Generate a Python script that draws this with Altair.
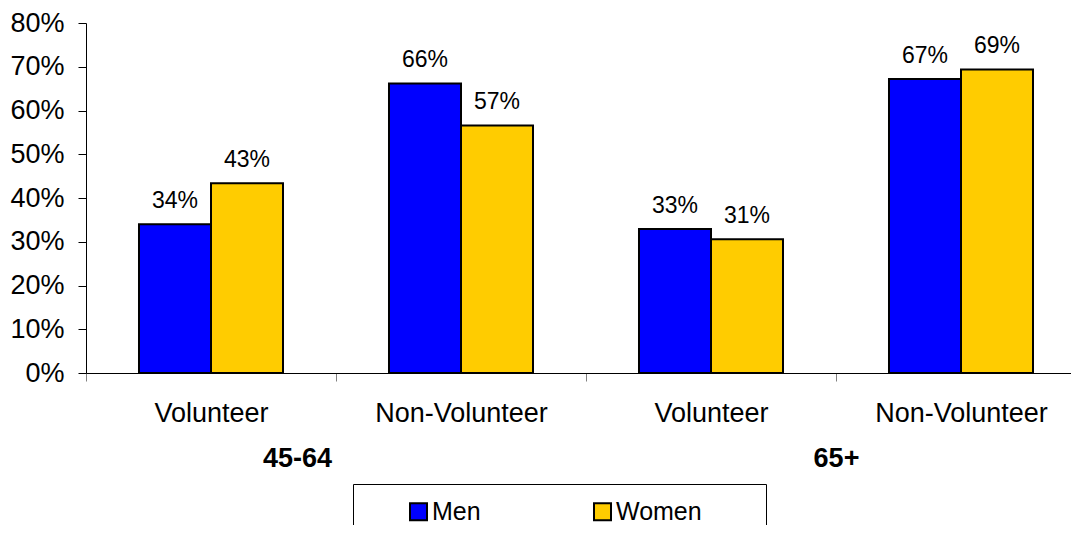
import altair as alt
import pandas as pd

# ---- data ----
groups = ["45-64", "45-64", "65+", "65+"]
statuses = ["Volunteer", "Non-Volunteer", "Volunteer", "Non-Volunteer"]
men = [34.0, 66.2, 32.9, 67.2]
women = [43.4, 56.6, 30.6, 69.4]
genders = ["Men", "Women"]
colors = ["#0000FF", "#FFCC00"]
y_ticks = [0, 10, 20, 30, 40, 50, 60, 70, 80]
group_names = ["45-64", "65+"]

keys = [f"{s}|{g}" for s, g in zip(statuses, groups)]
rows = []
for k, g, s, m, w in zip(keys, groups, statuses, men, women):
    rows.append({"key": k, "group": g, "status": s, "gender": "Men", "value": m})
    rows.append({"key": k, "group": g, "status": s, "gender": "Women", "value": w})
df = pd.DataFrame(rows)
gdf = pd.DataFrame({"group": group_names})

FONT = "Liberation Sans"
xscale = alt.Scale(domain=keys, range=[0, 1000], paddingInner=0, paddingOuter=0)
offscale = alt.Scale(domain=genders, paddingInner=0, paddingOuter=0.736)
yscale = alt.Scale(domain=[0, 80], nice=False)

yaxis = alt.Axis(values=y_ticks, labelExpr="datum.value + '%'", title=None, grid=False,
                 tickSize=8, labelFontSize=27, labelPadding=14, domainColor="black",
                 tickColor="black", labelColor="black", domainWidth=1, tickWidth=1)

xaxis = alt.Axis(title=None, labelExpr="datum.value ? split(datum.value, '|')[0] : ''",
                 labelAngle=0, tickBand="extent", tickSize=8, tickColor="#808080",
                 domainColor="black", labelFontSize=27, labelPadding=19, labelColor="black")

NB = "\u00a0" * 7 + "\u200b"
legend = alt.Legend(orient="none", legendX=267, legendY=461, direction="horizontal",
                    title="\u00a0", titleOrient="left", titleFontSize=1, titlePadding=38,
                    padding=15, strokeColor="black", fillColor="white",
                    symbolType="square", symbolSize=289, symbolStrokeColor="black",
                    symbolStrokeWidth=2, symbolOpacity=1, labelFontSize=25, labelOffset=1,
                    columnPadding=109, labelColor="black",
                    labelExpr="datum.label == 'Women' ? datum.label + '" + NB + "' : datum.label")

base = alt.Chart(df)

bars = base.mark_bar(stroke="black", strokeWidth=2).encode(
    x=alt.X("key:N", scale=xscale, axis=xaxis, sort=keys),
    xOffset=alt.XOffset("gender:N", scale=offscale),
    y=alt.Y("value:Q", scale=yscale, axis=yaxis),
    color=alt.Color("gender:N", scale=alt.Scale(domain=genders, range=colors), legend=legend),
)

vals = base.transform_calculate(
    label="format(datum.value, '.0f') + '%'"
).mark_text(dy=-16, baseline="alphabetic", fontSize=23, color="black").encode(
    x=alt.X("key:N", scale=xscale, axis=None, sort=keys),
    xOffset=alt.XOffset("gender:N", scale=offscale),
    y=alt.Y("value:Q", scale=yscale),
    text="label:N",
)

grp = alt.Chart(gdf).mark_text(opacity=0, text="").encode(
    x=alt.X("group:N", sort=group_names,
            scale=alt.Scale(domain=group_names, range=[0, 1000], paddingInner=0, paddingOuter=0),
            axis=alt.Axis(orient="bottom", title=None, domain=False, ticks=False, tickSize=0,
                          labelFontSize=27, labelFontWeight="bold", labelPadding=72,
                          labelAngle=0, labelColor="black",
                          labelOffset={"condition": {"test": "datum.value === '45-64'", "value": -39},
                                       "value": 0})),
)

chart = alt.layer(bars, vals, grp).resolve_scale(x="independent").properties(
    width=985, height=350,
    autosize=alt.AutoSizeParams(type="none"),
    padding={"left": 78, "top": 15, "right": 0, "bottom": 152},
).configure(font=FONT).configure_view(stroke=None)

chart.save("out.html", embed_options={"renderer": "svg", "actions": False})
